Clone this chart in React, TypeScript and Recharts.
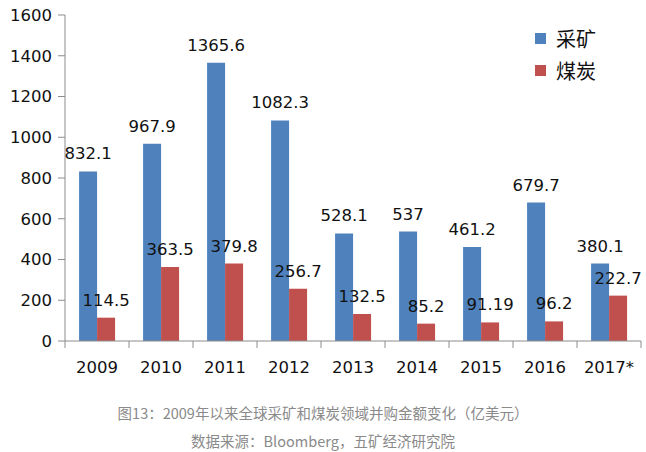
import React from "react";
import { BarChart, Bar, XAxis, YAxis, LabelList, Legend } from "recharts";

const years = ["2009", "2010", "2011", "2012", "2013", "2014", "2015", "2016", "2017*"];
const mining = [832.1, 967.9, 1365.6, 1082.3, 528.1, 537, 461.2, 679.7, 380.1];
const coal = [114.5, 363.5, 379.8, 256.7, 132.5, 85.2, 91.19, 96.2, 222.7];
const yTicks = [0, 200, 400, 600, 800, 1000, 1200, 1400, 1600];

const rows = years.map((y, i) => ({ year: y, mining: mining[i], coal: coal[i] }));

const BLUE = "#4f81bd";
const RED = "#c0504d";
const AXIS = "#8c8c8c";
const NUM_FONT = "'DejaVu Sans', sans-serif";
const CJK_FONT = "'Noto Sans CJK SC', sans-serif";

const W = 646;
const H = 388;
const M = { top: 15, right: 5, left: 0, bottom: 0 };
const Y_W = 65;
const HALF_BAND = (W - M.right - Y_W) / years.length / 2;

// category label plus Excel-style tick marks between categories
function YearTick(props: any) {
  const { x, y, payload, index } = props;
  const last = index === years.length - 1;
  return (
    <g>
      <line x1={x - HALF_BAND} x2={x - HALF_BAND} y1={y} y2={y + 7} stroke={AXIS} />
      {last && <line x1={x + HALF_BAND} x2={x + HALF_BAND} y1={y} y2={y + 7} stroke={AXIS} />}
      <text x={x} y={y + 32} textAnchor="middle" fontFamily={NUM_FONT} fontSize={16.5} fill="#111">
        {payload.value}
      </text>
    </g>
  );
}

function LegendBox() {
  const items = [
    { name: "采矿", color: BLUE },
    { name: "煤炭", color: RED },
  ];
  return (
    <div>
      {items.map((it) => (
        <div key={it.name} style={{ display: "flex", alignItems: "center", height: 32 }}>
          <span style={{ width: 11, height: 11, background: it.color, marginRight: 10 }} />
          <span style={{ fontFamily: CJK_FONT, fontSize: 20, color: "#111" }}>{it.name}</span>
        </div>
      ))}
    </div>
  );
}

export default function App() {
  const labelStyle = { fontFamily: NUM_FONT, fontSize: 16.5, fill: "#111" };
  return (
    <div style={{ position: "absolute", left: 0, top: 0, width: 646, height: 452, background: "#fff" }}>
      <BarChart width={W} height={H} data={rows} margin={M} barCategoryGap="22%" barGap={0}>
        <XAxis
          dataKey="year"
          stroke={AXIS}
          tickLine={false}
          tickSize={0}
          tickMargin={0}
          height={47}
          interval={0}
          tick={<YearTick />}
        />
        <YAxis
          domain={[0, 1600]}
          ticks={yTicks}
          width={Y_W}
          tickSize={7}
          tickMargin={6}
          stroke={AXIS}
          tick={{ fontFamily: NUM_FONT, fontSize: 16.5, fill: "#111" }}
        />
        <Legend
          layout="vertical"
          align="center"
          verticalAlign="middle"
          wrapperStyle={{ top: 22, left: 535, width: 100 }}
          content={() => <LegendBox />}
        />
        <Bar dataKey="mining" name="采矿" fill={BLUE} isAnimationActive={false}>
          <LabelList dataKey="mining" position="top" offset={12} style={labelStyle} />
        </Bar>
        <Bar dataKey="coal" name="煤炭" fill={RED} isAnimationActive={false}>
          <LabelList dataKey="coal" position="top" offset={12} style={labelStyle} />
        </Bar>
      </BarChart>
      <div
        style={{
          position: "absolute",
          top: 399,
          left: 0,
          width: 646,
          textAlign: "center",
          fontFamily: CJK_FONT,
          fontSize: 14.5,
          color: "#8a8a8a",
          lineHeight: "28px",
        }}
      >
        <div>图13：2009年以来全球采矿和煤炭领域并购金额变化（亿美元）</div>
        <div>数据来源：Bloomberg，五矿经济研究院</div>
      </div>
    </div>
  );
}
